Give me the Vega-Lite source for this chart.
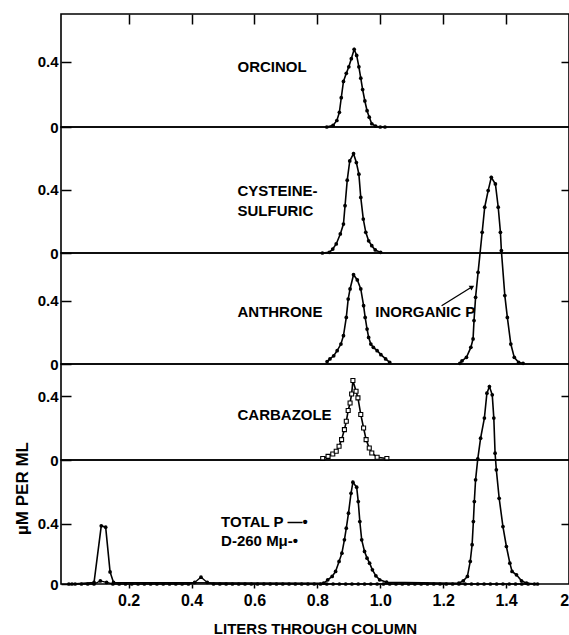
{
  "$schema": "https://vega.github.io/schema/vega-lite/v6.json",
  "background": "white",
  "padding": {"left": 12, "top": 12, "right": 0, "bottom": 5},
  "bounds": "flush",
  "spacing": 0,
  "config": {
    "view": {"stroke": "#000", "strokeWidth": 1.6},
    "font": "Liberation Sans",
    "axis": {"labelFont": "Liberation Sans", "labelFontSize": 15, "labelFontWeight": "bold", "labelColor": "#000", "tickColor": "#000", "tickWidth": 1.5, "titleFont": "Liberation Sans", "titleFontSize": 15, "titleFontWeight": "bold", "titleColor": "#000", "grid": false},
    "text": {"font": "Liberation Sans", "fontSize": 15, "fontWeight": "bold", "color": "#000"},
    "line": {"color": "#000", "strokeWidth": 1.6},
    "point": {"color": "#000", "filled": true, "size": 14, "opacity": 1}
  },
  "datasets": {
    "orcinol": [
      {"x": 0.83, "y": 0}, {"x": 0.85, "y": 0.01}, {"x": 0.862, "y": 0.04}, {"x": 0.87, "y": 0.09}, {"x": 0.876, "y": 0.18}, {"x": 0.883, "y": 0.28}, {"x": 0.892, "y": 0.33}, {"x": 0.9, "y": 0.37}, {"x": 0.908, "y": 0.42}, {"x": 0.917, "y": 0.478}, {"x": 0.925, "y": 0.44}, {"x": 0.932, "y": 0.37}, {"x": 0.938, "y": 0.3}, {"x": 0.944, "y": 0.23}, {"x": 0.951, "y": 0.16}, {"x": 0.958, "y": 0.1}, {"x": 0.965, "y": 0.06}, {"x": 0.973, "y": 0.02}, {"x": 0.985, "y": 0.005}, {"x": 1.0, "y": 0}, {"x": 1.015, "y": 0}
    ],
    "cysteine": [
      {"x": 0.816, "y": 0}, {"x": 0.838, "y": 0.004}, {"x": 0.849, "y": 0.025}, {"x": 0.86, "y": 0.057}, {"x": 0.873, "y": 0.12}, {"x": 0.883, "y": 0.182}, {"x": 0.888, "y": 0.298}, {"x": 0.895, "y": 0.459}, {"x": 0.903, "y": 0.58}, {"x": 0.915, "y": 0.626}, {"x": 0.924, "y": 0.57}, {"x": 0.932, "y": 0.497}, {"x": 0.938, "y": 0.35}, {"x": 0.946, "y": 0.214}, {"x": 0.954, "y": 0.13}, {"x": 0.963, "y": 0.077}, {"x": 0.973, "y": 0.046}, {"x": 0.984, "y": 0.019}, {"x": 1.001, "y": 0.004}
    ],
    "anthrone": [
      {"x": 0.831, "y": 0.015}, {"x": 0.84, "y": 0.032}, {"x": 0.852, "y": 0.052}, {"x": 0.863, "y": 0.084}, {"x": 0.875, "y": 0.126}, {"x": 0.883, "y": 0.179}, {"x": 0.892, "y": 0.294}, {"x": 0.898, "y": 0.41}, {"x": 0.904, "y": 0.474}, {"x": 0.915, "y": 0.564}, {"x": 0.927, "y": 0.531}, {"x": 0.938, "y": 0.474}, {"x": 0.947, "y": 0.368}, {"x": 0.952, "y": 0.294}, {"x": 0.958, "y": 0.221}, {"x": 0.963, "y": 0.168}, {"x": 0.97, "y": 0.126}, {"x": 0.978, "y": 0.105}, {"x": 0.99, "y": 0.084}, {"x": 1.002, "y": 0.059}, {"x": 1.017, "y": 0.032}, {"x": 1.03, "y": 0.01}
    ],
    "inorganic": [
      {"x": 1.253, "y": 0.004}, {"x": 1.26, "y": 0.02}, {"x": 1.274, "y": 0.042}, {"x": 1.288, "y": 0.105}, {"x": 1.295, "y": 0.158}, {"x": 1.298, "y": 0.274}, {"x": 1.303, "y": 0.421}, {"x": 1.311, "y": 0.579}, {"x": 1.324, "y": 0.832}, {"x": 1.332, "y": 0.99}, {"x": 1.343, "y": 1.095}, {"x": 1.353, "y": 1.179}, {"x": 1.366, "y": 1.137}, {"x": 1.375, "y": 0.99}, {"x": 1.382, "y": 0.832}, {"x": 1.385, "y": 0.716}, {"x": 1.396, "y": 0.432}, {"x": 1.404, "y": 0.294}, {"x": 1.415, "y": 0.126}, {"x": 1.426, "y": 0.042}, {"x": 1.44, "y": 0.01}, {"x": 1.454, "y": 0.004}
    ],
    "carbazole": [
      {"x": 0.817, "y": 0.009}, {"x": 0.834, "y": 0.023}, {"x": 0.849, "y": 0.038}, {"x": 0.86, "y": 0.055}, {"x": 0.869, "y": 0.086}, {"x": 0.877, "y": 0.128}, {"x": 0.886, "y": 0.191}, {"x": 0.892, "y": 0.243}, {"x": 0.898, "y": 0.311}, {"x": 0.904, "y": 0.358}, {"x": 0.909, "y": 0.415}, {"x": 0.913, "y": 0.499}, {"x": 0.923, "y": 0.432}, {"x": 0.929, "y": 0.39}, {"x": 0.938, "y": 0.286}, {"x": 0.947, "y": 0.201}, {"x": 0.955, "y": 0.128}, {"x": 0.965, "y": 0.075}, {"x": 0.973, "y": 0.044}, {"x": 0.99, "y": 0.017}, {"x": 1.021, "y": 0.009}
    ],
    "totalp": [
      {"x": 0.02, "y": 0}, {"x": 0.09, "y": 0.01}, {"x": 0.113, "y": 0.385}, {"x": 0.127, "y": 0.376}, {"x": 0.141, "y": 0.08}, {"x": 0.152, "y": 0.01}, {"x": 0.82, "y": 0.005}, {"x": 0.833, "y": 0.028}, {"x": 0.847, "y": 0.05}, {"x": 0.858, "y": 0.083}, {"x": 0.869, "y": 0.149}, {"x": 0.878, "y": 0.204}, {"x": 0.886, "y": 0.292}, {"x": 0.892, "y": 0.369}, {"x": 0.899, "y": 0.468}, {"x": 0.907, "y": 0.6}, {"x": 0.913, "y": 0.673}, {"x": 0.925, "y": 0.64}, {"x": 0.93, "y": 0.545}, {"x": 0.935, "y": 0.413}, {"x": 0.941, "y": 0.292}, {"x": 0.95, "y": 0.215}, {"x": 0.958, "y": 0.171}, {"x": 0.966, "y": 0.138}, {"x": 0.975, "y": 0.094}, {"x": 0.986, "y": 0.054}, {"x": 0.998, "y": 0.028}, {"x": 1.02, "y": 0.012}, {"x": 1.25, "y": 0.005}, {"x": 1.264, "y": 0.021}, {"x": 1.277, "y": 0.05}, {"x": 1.286, "y": 0.149}, {"x": 1.292, "y": 0.26}, {"x": 1.296, "y": 0.413}, {"x": 1.299, "y": 0.545}, {"x": 1.303, "y": 0.689}, {"x": 1.31, "y": 0.828}, {"x": 1.319, "y": 0.964}, {"x": 1.331, "y": 1.097}, {"x": 1.339, "y": 1.262}, {"x": 1.347, "y": 1.306}, {"x": 1.356, "y": 1.251}, {"x": 1.361, "y": 1.097}, {"x": 1.365, "y": 0.865}, {"x": 1.369, "y": 0.755}, {"x": 1.378, "y": 0.567}, {"x": 1.39, "y": 0.38}, {"x": 1.401, "y": 0.248}, {"x": 1.412, "y": 0.138}, {"x": 1.419, "y": 0.083}, {"x": 1.433, "y": 0.061}, {"x": 1.449, "y": 0.021}, {"x": 1.465, "y": 0.005}, {"x": 1.5, "y": 0}
    ],
    "d260": [
      {"x": 0.01, "y": 0}, {"x": 0.03, "y": 0}, {"x": 0.05, "y": 0}, {"x": 0.07, "y": 0}, {"x": 0.09, "y": 0}, {"x": 0.11, "y": 0.02}, {"x": 0.13, "y": 0.01}, {"x": 0.15, "y": 0}, {"x": 0.17, "y": 0}, {"x": 0.19, "y": 0},
      {"x": 0.21, "y": 0}, {"x": 0.23, "y": 0}, {"x": 0.25, "y": 0}, {"x": 0.27, "y": 0}, {"x": 0.29, "y": 0}, {"x": 0.31, "y": 0}, {"x": 0.33, "y": 0}, {"x": 0.35, "y": 0}, {"x": 0.37, "y": 0}, {"x": 0.39, "y": 0},
      {"x": 0.41, "y": 0.01}, {"x": 0.43, "y": 0.045}, {"x": 0.45, "y": 0.01}, {"x": 0.47, "y": 0}, {"x": 0.49, "y": 0}, {"x": 0.51, "y": 0}, {"x": 0.53, "y": 0}, {"x": 0.55, "y": 0}, {"x": 0.57, "y": 0}, {"x": 0.59, "y": 0},
      {"x": 0.61, "y": 0}, {"x": 0.63, "y": 0}, {"x": 0.65, "y": 0}, {"x": 0.67, "y": 0}, {"x": 0.69, "y": 0}, {"x": 0.71, "y": 0}, {"x": 0.73, "y": 0}, {"x": 0.75, "y": 0}, {"x": 0.77, "y": 0}, {"x": 0.79, "y": 0},
      {"x": 0.81, "y": 0}, {"x": 0.83, "y": 0}, {"x": 0.85, "y": 0}, {"x": 0.87, "y": 0}, {"x": 0.89, "y": 0}, {"x": 0.91, "y": 0}, {"x": 0.93, "y": 0}, {"x": 0.95, "y": 0}, {"x": 0.97, "y": 0}, {"x": 0.99, "y": 0},
      {"x": 1.01, "y": 0}, {"x": 1.03, "y": 0}, {"x": 1.05, "y": 0}, {"x": 1.07, "y": 0}, {"x": 1.09, "y": 0}, {"x": 1.11, "y": 0}, {"x": 1.13, "y": 0}, {"x": 1.15, "y": 0}, {"x": 1.17, "y": 0}, {"x": 1.19, "y": 0},
      {"x": 1.21, "y": 0}, {"x": 1.23, "y": 0}, {"x": 1.25, "y": 0}, {"x": 1.27, "y": 0}, {"x": 1.29, "y": 0}, {"x": 1.31, "y": 0}, {"x": 1.33, "y": 0}, {"x": 1.35, "y": 0}, {"x": 1.37, "y": 0}, {"x": 1.39, "y": 0},
      {"x": 1.41, "y": 0}, {"x": 1.43, "y": 0}, {"x": 1.45, "y": 0}, {"x": 1.47, "y": 0}, {"x": 1.49, "y": 0}
    ]
  },
  "vconcat": [
    {
      "width": 508, "height": 113,
      "layer": [
        {"data": {"name": "orcinol"}, "mark": {"type": "line"}, "encoding": {
          "x": {"field": "x", "type": "quantitative", "scale": {"domain": [-0.015, 1.6], "nice": false, "zero": false}, "axis": {"orient": "top", "values": [0.2, 0.4, 0.6, 0.8, 1.0, 1.2, 1.4], "labels": false, "tickSize": -10, "domain": false, "title": null}},
          "y": {"field": "y", "type": "quantitative", "scale": {"domain": [0, 0.695], "nice": false, "zero": false}, "axis": {"orient": "left", "values": [0, 0.4], "format": ".1~f", "tickSize": -10, "labelPadding": 13, "domain": false, "title": null}}}},
        {"data": {"name": "orcinol"}, "mark": {"type": "point"}, "encoding": {
          "x": {"field": "x", "type": "quantitative", "axis": null},
          "y": {"field": "y", "type": "quantitative", "axis": {"orient": "right", "values": [0.4], "labels": false, "tickSize": -8, "domain": false, "title": null}}}},
        {"data": {"values": [{}]}, "mark": {"type": "text", "text": "ORCINOL", "align": "left", "baseline": "middle"}, "encoding": {
          "x": {"datum": 0.546, "type": "quantitative", "axis": null},
          "y": {"datum": 0.37, "type": "quantitative", "axis": null}}}
      ],
      "resolve": {"axis": {"x": "independent", "y": "independent"}}
    },
    {
      "width": 508, "height": 126,
      "layer": [
        {"data": {"name": "cysteine"}, "mark": {"type": "line"}, "encoding": {
          "x": {"field": "x", "type": "quantitative", "scale": {"domain": [-0.015, 1.6], "nice": false, "zero": false}, "axis": null},
          "y": {"field": "y", "type": "quantitative", "scale": {"domain": [0, 0.794], "nice": false, "zero": false}, "axis": {"orient": "left", "values": [0, 0.4], "format": ".1~f", "tickSize": -10, "labelPadding": 13, "domain": false, "title": null}}}},
        {"data": {"name": "cysteine"}, "mark": {"type": "point"}, "encoding": {
          "x": {"field": "x", "type": "quantitative", "axis": null},
          "y": {"field": "y", "type": "quantitative", "axis": {"orient": "right", "values": [0.4], "labels": false, "tickSize": -8, "domain": false, "title": null}}}},
        {"data": {"values": [{}]}, "mark": {"type": "text", "text": "CYSTEINE-", "align": "left", "baseline": "middle"}, "encoding": {
          "x": {"datum": 0.546, "type": "quantitative", "axis": null},
          "y": {"datum": 0.39, "type": "quantitative", "axis": null}}},
        {"data": {"values": [{}]}, "mark": {"type": "text", "text": "SULFURIC", "align": "left", "baseline": "middle"}, "encoding": {
          "x": {"datum": 0.546, "type": "quantitative", "axis": null},
          "y": {"datum": 0.266, "type": "quantitative", "axis": null}}}
      ],
      "resolve": {"axis": {"x": "independent", "y": "independent"}}
    },
    {
      "width": 508, "height": 111,
      "layer": [
        {"data": {"name": "anthrone"}, "mark": {"type": "line"}, "encoding": {
          "x": {"field": "x", "type": "quantitative", "scale": {"domain": [-0.015, 1.6], "nice": false, "zero": false}, "axis": null},
          "y": {"field": "y", "type": "quantitative", "scale": {"domain": [0, 0.701], "nice": false, "zero": false}, "axis": {"orient": "left", "values": [0, 0.4], "format": ".1~f", "tickSize": -10, "labelPadding": 13, "domain": false, "title": null}}}},
        {"data": {"name": "anthrone"}, "mark": {"type": "point"}, "encoding": {
          "x": {"field": "x", "type": "quantitative", "axis": null},
          "y": {"field": "y", "type": "quantitative", "axis": {"orient": "right", "values": [0.4], "labels": false, "tickSize": -8, "domain": false, "title": null}}}},
        {"data": {"name": "inorganic"}, "mark": {"type": "line"}, "encoding": {
          "x": {"field": "x", "type": "quantitative", "axis": null},
          "y": {"field": "y", "type": "quantitative", "axis": null}}},
        {"data": {"name": "inorganic"}, "mark": {"type": "point"}, "encoding": {
          "x": {"field": "x", "type": "quantitative", "axis": null},
          "y": {"field": "y", "type": "quantitative", "axis": null}}},
        {"data": {"values": [{}]}, "mark": {"type": "text", "text": "ANTHRONE", "align": "left", "baseline": "middle"}, "encoding": {
          "x": {"datum": 0.546, "type": "quantitative", "axis": null},
          "y": {"datum": 0.326, "type": "quantitative", "axis": null}}},
        {"data": {"values": [{}]}, "mark": {"type": "text", "text": "INORGANIC P", "align": "left", "baseline": "middle"}, "encoding": {
          "x": {"datum": 0.984, "type": "quantitative", "axis": null},
          "y": {"datum": 0.326, "type": "quantitative", "axis": null}}},
        {"data": {"values": [{}]}, "mark": {"type": "rule", "strokeWidth": 1.3, "color": "#000"}, "encoding": {
          "x": {"datum": 1.195, "type": "quantitative", "axis": null},
          "y": {"datum": 0.368, "type": "quantitative", "axis": null},
          "x2": {"datum": 1.287}, "y2": {"datum": 0.482}}},
        {"data": {"values": [{}]}, "mark": {"type": "point", "shape": "triangle-right", "size": 30, "angle": -31, "filled": true}, "encoding": {
          "x": {"datum": 1.292, "type": "quantitative", "axis": null},
          "y": {"datum": 0.487, "type": "quantitative", "axis": null}}}
      ],
      "resolve": {"axis": {"x": "independent", "y": "independent"}}
    },
    {
      "width": 508, "height": 96,
      "layer": [
        {"data": {"name": "carbazole"}, "mark": {"type": "line"}, "encoding": {
          "x": {"field": "x", "type": "quantitative", "scale": {"domain": [-0.015, 1.6], "nice": false, "zero": false}, "axis": null},
          "y": {"field": "y", "type": "quantitative", "scale": {"domain": [0, 0.603], "nice": false, "zero": false}, "axis": {"orient": "left", "values": [0, 0.4], "format": ".1~f", "tickSize": -10, "labelPadding": 13, "domain": false, "title": null}}}},
        {"data": {"name": "carbazole"}, "mark": {"type": "point", "shape": "square", "filled": false, "size": 16, "strokeWidth": 1.1, "fill": "white"}, "encoding": {
          "x": {"field": "x", "type": "quantitative", "axis": null},
          "y": {"field": "y", "type": "quantitative", "axis": {"orient": "right", "values": [0.4], "labels": false, "tickSize": -8, "domain": false, "title": null}}}},
        {"data": {"values": [{}]}, "mark": {"type": "text", "text": "CARBAZOLE", "align": "left", "baseline": "middle"}, "encoding": {
          "x": {"datum": 0.546, "type": "quantitative", "axis": null},
          "y": {"datum": 0.285, "type": "quantitative", "axis": null}}}
      ],
      "resolve": {"axis": {"x": "independent", "y": "independent"}}
    },
    {
      "width": 508, "height": 124,
      "layer": [
        {"data": {"name": "totalp"}, "mark": {"type": "line"}, "encoding": {
          "x": {"field": "x", "type": "quantitative", "scale": {"domain": [-0.015, 1.6], "nice": false, "zero": false}, "axis": {"orient": "bottom", "values": [0.2, 0.4, 0.6, 0.8, 1.0, 1.2, 1.4, 1.585], "labelExpr": "datum.value > 1.5 ? '2' : format(datum.value, '.1f')", "tickSize": 4, "tickOpacity": {"condition": {"test": "datum.value > 1.5", "value": 0}, "value": 1}, "labelPadding": 4, "labelFontSize": 16, "labelFlush": false, "labelOverlap": false, "labelBound": false, "domain": false, "title": "LITERS THROUGH COLUMN", "titlePadding": 13}},
          "y": {"field": "y", "type": "quantitative", "scale": {"domain": [0, 0.82], "nice": false, "zero": false}, "axis": {"orient": "left", "values": [0, 0.4], "format": ".1~f", "tickSize": -10, "labelPadding": 13, "domain": false, "title": "µM PER ML", "titleAngle": 270, "titleX": -34, "titleY": 28, "titleAlign": "center", "titleBaseline": "alphabetic", "titleFontSize": 17}}}},
        {"data": {"name": "totalp"}, "mark": {"type": "point"}, "encoding": {
          "x": {"field": "x", "type": "quantitative", "axis": null},
          "y": {"field": "y", "type": "quantitative", "axis": {"orient": "right", "values": [0.4], "labels": false, "tickSize": -8, "domain": false, "title": null}}}},
        {"data": {"name": "d260"}, "mark": {"type": "line", "strokeWidth": 1.3}, "encoding": {
          "x": {"field": "x", "type": "quantitative", "axis": null},
          "y": {"field": "y", "type": "quantitative", "axis": null}}},
        {"data": {"name": "d260"}, "mark": {"type": "point", "size": 14}, "encoding": {
          "x": {"field": "x", "type": "quantitative", "axis": null},
          "y": {"field": "y", "type": "quantitative", "axis": null}}},
        {"data": {"values": [{}]}, "mark": {"type": "text", "text": "TOTAL P —•", "align": "left", "baseline": "middle"}, "encoding": {
          "x": {"datum": 0.494, "type": "quantitative", "axis": null},
          "y": {"datum": 0.41, "type": "quantitative", "axis": null}}},
        {"data": {"values": [{}]}, "mark": {"type": "text", "text": "D-260 Mμ-•", "align": "left", "baseline": "middle"}, "encoding": {
          "x": {"datum": 0.494, "type": "quantitative", "axis": null},
          "y": {"datum": 0.285, "type": "quantitative", "axis": null}}}
      ],
      "resolve": {"axis": {"x": "independent", "y": "independent"}}
    }
  ]
}
